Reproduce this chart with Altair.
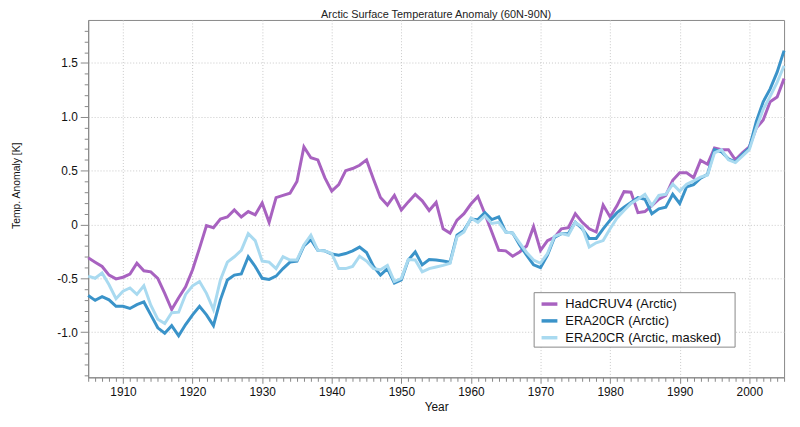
import altair as alt
import pandas as pd

years = list(range(1905, 2006))

hadcru = [-0.31, -0.35, -0.39, -0.47, -0.505, -0.49, -0.46, -0.36, -0.43, -0.44,
          -0.50, -0.64, -0.79, -0.68, -0.58, -0.42, -0.22, -0.01, -0.03, 0.05,
          0.07, 0.135, 0.07, 0.12, 0.09, 0.20, 0.02, 0.25, 0.27, 0.29,
          0.40, 0.72, 0.62, 0.60, 0.435, 0.31, 0.37, 0.50, 0.52, 0.55,
          0.60, 0.42, 0.25, 0.18, 0.27, 0.135, 0.21, 0.28, 0.22, 0.13,
          0.205, -0.04, -0.08, 0.04, 0.10, 0.19, 0.26, 0.10, -0.07, -0.24,
          -0.245, -0.295, -0.255, -0.20, -0.02, -0.24, -0.15, -0.12, -0.04, -0.03,
          0.10, 0.02, -0.04, -0.07, 0.18, 0.07, 0.175, 0.305, 0.30, 0.11,
          0.12, 0.175, 0.235, 0.27, 0.41, 0.48, 0.48, 0.435, 0.595, 0.56,
          0.71, 0.695, 0.695, 0.60, 0.665, 0.72, 0.895, 0.97, 1.14, 1.185,
          1.355]

era20cr = [-0.66, -0.705, -0.67, -0.70, -0.76, -0.76, -0.78, -0.745, -0.72, -0.84,
           -0.96, -1.01, -0.94, -1.035, -0.93, -0.84, -0.76, -0.84, -0.94, -0.70,
           -0.515, -0.47, -0.46, -0.30, -0.39, -0.50, -0.51, -0.48, -0.41, -0.35,
           -0.34, -0.20, -0.14, -0.24, -0.245, -0.275, -0.285, -0.27, -0.245, -0.21,
           -0.26, -0.39, -0.47, -0.41, -0.545, -0.515, -0.33, -0.255, -0.375, -0.325,
           -0.33, -0.34, -0.35, -0.10, -0.055, 0.05, 0.045, 0.11, 0.045, 0.07,
           -0.07, -0.08, -0.19, -0.285, -0.375, -0.40, -0.285, -0.12, -0.085, -0.085,
           0.02, -0.04, -0.13, -0.13, -0.04, 0.04, 0.11, 0.16, 0.205, 0.25,
           0.235, 0.10, 0.145, 0.16, 0.28, 0.195, 0.35, 0.37, 0.43, 0.465,
           0.695, 0.675, 0.61, 0.58, 0.65, 0.71, 0.955, 1.14, 1.26, 1.415,
           1.615]

era20cr_masked = [-0.48, -0.50, -0.45, -0.56, -0.69, -0.62, -0.59, -0.65, -0.57, -0.75,
                  -0.88, -0.92, -0.82, -0.815, -0.65, -0.57, -0.53, -0.64, -0.79, -0.515,
                  -0.35, -0.30, -0.24, -0.085, -0.15, -0.34, -0.35, -0.41, -0.30, -0.33,
                  -0.33, -0.19, -0.10, -0.24, -0.245, -0.27, -0.41, -0.41, -0.39, -0.295,
                  -0.34, -0.41, -0.42, -0.38, -0.53, -0.50, -0.325, -0.33, -0.44, -0.41,
                  -0.395, -0.38, -0.36, -0.115, -0.07, 0.06, 0.02, 0.08, 0.01, 0.02,
                  -0.07, -0.08, -0.17, -0.26, -0.33, -0.36, -0.27, -0.11, -0.085, -0.10,
                  0.02, -0.025, -0.21, -0.17, -0.15, -0.04, 0.06, 0.13, 0.195, 0.235,
                  0.28, 0.175, 0.27, 0.28, 0.375, 0.31, 0.375, 0.405, 0.44, 0.46,
                  0.665, 0.695, 0.60, 0.575, 0.635, 0.695, 0.895, 1.07, 1.19, 1.32,
                  1.475]

series_names = ["HadCRUV4 (Arctic)", "ERA20CR (Arctic)", "ERA20CR (Arctic, masked)"]
series_colors = ["#a862c0", "#3a93c9", "#a9daf0"]

x_tick_values = list(range(1905, 2006))
y_tick_values = [round(i / 10, 1) for i in range(-14, 19)]

rows = []
for name, vals in zip(series_names, [hadcru, era20cr, era20cr_masked]):
    for yr, v in zip(years, vals):
        rows.append({"Year": yr, "Anomaly": v, "Series": name})
df = pd.DataFrame(rows)

FONT = "Liberation Sans"
major_x = "datum.value % 10 === 0"
major_y = "abs(round(datum.value * 10) % 5) === 0"

x_axis = alt.Axis(
    values=x_tick_values,
    labelExpr=f"{major_x} ? '' + datum.value : ''",
    labelOverlap=False,
    labelFlush=False,
    tickSize={"condition": {"test": major_x, "value": 6}, "value": 4},
    gridOpacity={"condition": {"test": major_x, "value": 1}, "value": 0},
    grid=True,
    gridDash=[1, 2],
    gridColor="#c8c8c8",
    labelPadding=3,
    titlePadding=5,
    title="Year",
)

y_axis = alt.Axis(
    values=y_tick_values,
    labelExpr=(f"{major_y} ? (abs(datum.value) < 0.001 ? '0' : "
               "(datum.value < 0 ? '-' + format(-datum.value, '.1f') : format(datum.value, '.1f'))) : ''"),
    labelOverlap=False,
    labelFlush=False,
    tickSize={"condition": {"test": major_y, "value": 8}, "value": 4},
    gridOpacity={"condition": {"test": major_y, "value": 1}, "value": 0},
    grid=True,
    gridDash=[1, 2],
    gridColor="#c8c8c8",
    labelPadding=3,
    title="Temp. Anomaly [K]",
    titleFontSize=10.5,
    titleBaseline="middle",
    titleX=-72,
    titleY=167,
)

color = alt.Color(
    "Series:N",
    scale=alt.Scale(domain=series_names, range=series_colors),
    legend=alt.Legend(
        title="\u200b",
        titleOrient="right",
        titlePadding=12,
        titleFontSize=10,
        orient="none",
        legendX=450,
        legendY=275,
        symbolType="stroke",
        symbolStrokeWidth=3.5,
        symbolSize=256,
        symbolOffset=4,
        labelOffset=6,
        labelFontSize=13,
        labelFont=FONT,
        labelColor="#111",
        labelLimit=300,
        rowPadding=0,
        padding=2,
        strokeColor="#888",
        fillColor="white",
        cornerRadius=0,
    ),
)

base = alt.Chart(df).mark_line(strokeWidth=3).encode(
    x=alt.X("Year:Q", scale=alt.Scale(domain=[1905, 2005], nice=False, zero=False), axis=x_axis),
    y=alt.Y("Anomaly:Q", scale=alt.Scale(domain=[-1.42, 1.9], nice=False, zero=False), axis=y_axis),
    color=color,
)

layers = [base.transform_filter(alt.datum.Series == name) for name in series_names]

chart = alt.layer(*layers).properties(
    width=703,
    height=361,
    autosize="none",
    padding={"left": 81, "top": 10, "right": 8, "bottom": 38},
    title=alt.Title(
        "Arctic Surface Temperature Anomaly (60N-90N)",
        fontSize=11,
        fontWeight="normal",
        font=FONT,
        color="#222",
        offset=0,
        anchor="middle",
    ),
).configure_axis(
    labelFont=FONT,
    titleFont=FONT,
    labelFontSize=12,
    titleFontSize=12,
    titleFontWeight="normal",
    labelColor="#111",
    titleColor="#111",
    domainColor="#888",
    tickColor="#888",
).configure_view(
    stroke="#888",
    strokeWidth=1,
)

chart.save("out.html", embed_options={"renderer": "svg", "actions": False})
